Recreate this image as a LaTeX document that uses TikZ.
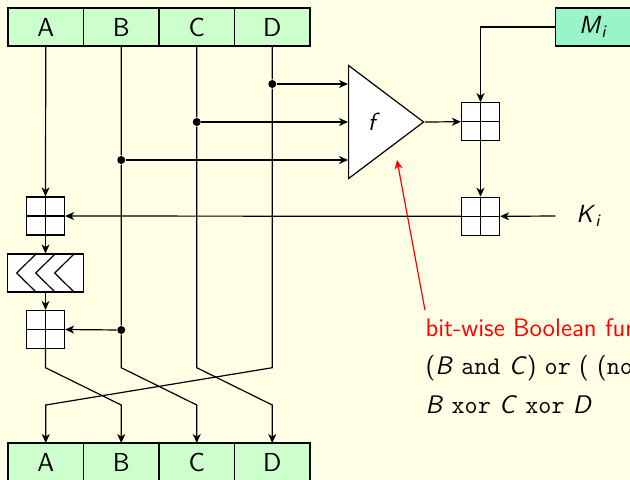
\documentclass[tikz,border=0pt]{standalone}
\usetikzlibrary{shapes.geometric, arrows.meta, positioning}
\renewcommand{\familydefault}{\sfdefault}
\definecolor{slidebg}{RGB}{255,255,230}
\definecolor{regfill}{RGB}{204,255,204}
\definecolor{msgfill}{RGB}{153,245,200}
\newcommand{\sv}[1]{\textit{#1}}
\tikzstyle{reg} = [
    rectangle,
    minimum width=37.75pt,
    minimum height=19pt,
    inner sep=0pt,
    outer sep=0pt,
    draw=black,
    fill=regfill,
    font=\fontsize{13}{15}\selectfont
]
\tikzstyle{msgbox} = [reg, fill=msgfill, font=\fontsize{12.4}{14}\selectfont]
\tikzstyle{adder} = [
    rectangle,
    minimum size=19pt,
    inner sep=0pt,
    draw=black,
    fill=white,
    path picture={\draw (path picture bounding box.north) -- (path picture bounding box.south)
        (path picture bounding box.west) -- (path picture bounding box.east);}
]
\tikzstyle{rotbox} = [
    rectangle,
    minimum width=37.75pt,
    minimum height=19pt,
    inner sep=0pt,
    draw=black,
    fill=white
]
\tikzstyle{func} = [
    isosceles triangle,
    isosceles triangle stretches,
    minimum width=56.5pt,
    minimum height=37.5pt,
    inner sep=0pt,
    draw=black,
    fill=white
]
\tikzstyle{tap} = [circle, fill=black, inner sep=0pt, minimum size=4pt]
\tikzstyle{note} = [anchor=base west, inner sep=0pt, font=\fontsize{12.7}{15}\selectfont]
\tikzstyle{arrow} = [-{Stealth[length=4.5pt, width=4pt, inset=1.3pt]}]
\begin{document}
\begin{tikzpicture}[x=0.5pt, y=-0.5pt, line width=0.6pt,
    font=\fontsize{12.4}{15}\selectfont]

\fill[slidebg] (0,0) rectangle (630,479);
\useasboundingbox (0,0) rectangle (630,479);

% registers
\node (inA) [reg] at (45.75,27) {A};
\node (inB) [reg, right=0pt of inA] {B};
\node (inC) [reg, right=0pt of inB] {C};
\node (inD) [reg, right=0pt of inC] {D};

\node (outA) [reg] at (45.75,462) {A};
\node (outB) [reg, right=0pt of outA] {B};
\node (outC) [reg, right=0pt of outB] {C};
\node (outD) [reg, right=0pt of outC] {D};

\node (msg) [msgbox] at (593.5,27) {\sv{M}\textsubscript{\sv{i}}};
\node (kin) [minimum width=33pt] at (589,216) {\sv{K}\textsubscript{\sv{i}}};

\node (f) [func, anchor=lower side] at (348,122) {\sv{f}};

\node (addM) [adder] at (480.5,121.7) {};
\node (addK) [adder] at (480.5,216.3) {};

\node (addA1) [adder] at (45.5,216) {};
\node (rotl) [rotbox] at (45.5,273) {};
\node (addA2) [adder] at (45.5,329.5) {};
\foreach \dx in {0,19,38}
    \draw (36+\dx,254) -- (16.7+\dx,273) -- (36+\dx,292);

\node (tapD) [tap] at (inD |- 0,84) {};
\node (tapC) [tap] at (inC |- 0,122) {};
\node (tapB) [tap] at (inB |- 0,160) {};
\node (tapB2) [tap] at (inB |- 0,330) {};

% into f
\draw [arrow] (tapD) -- (tapD -| f.left corner);
\draw [arrow] (tapC) -- (tapC -| f.left corner);
\draw [arrow] (tapB) -- (tapB -| f.left corner);

% adders on the right
\draw [arrow] (f.apex) -- (addM.west);
\draw [arrow] (msg.west) -| (addM.north);
\draw [arrow] (addM.south) -- (addK.north);
\draw [arrow] (kin.west) -- (addK.east);
\draw [arrow] (addK.west) -- (addA1.east);

% column A
\draw [arrow] (inA.south) -- (addA1.north);
\draw [arrow] (addA1.south) -- (rotl.north);
\draw [arrow] (rotl.south) -- (addA2.north);
\draw [arrow] (tapB2) -- (addA2.east);

% word rotation
\draw [arrow] (addA2.south) -- (addA2 |- 0,367.7) -- (outB |- 0,405) -- (outB.north);
\draw [arrow] (inB.south) -- (tapB) -- (tapB2) -- (inB |- 0,367.7) -- (outC |- 0,405) -- (outC.north);
\draw [arrow] (inC.south) -- (tapC) -- (inC |- 0,367.7) -- (outD |- 0,405) -- (outD.north);
\draw [arrow] (inD.south) -- (tapD) -- (inD |- 0,367.7) -- (outA |- 0,405) -- (outA.north);

% note on f
\node (fname) [note, text=red] at (425,336.7) {bit-wise Boolean function};
\node (fone) [note] at (425,374) {(\sv{B} \texttt{and} \sv{C}) \texttt{or} ( (\texttt{not} \sv{B}) \texttt{and} \sv{D})};
\node (ftwo) [note] at (425,413.3) {\sv{B} \texttt{xor} \sv{C} \texttt{xor} \sv{D}};
\coordinate (fhint) at (397,160);
\draw [arrow, red] ([yshift=4pt]fname.north west) -- (fhint);

\end{tikzpicture}
\end{document}
